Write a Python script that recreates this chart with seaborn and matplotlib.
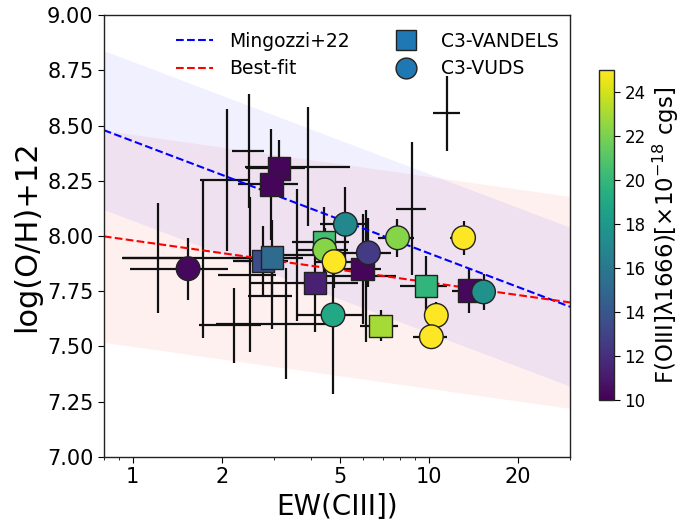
import numpy as np
import pandas as pd
import matplotlib
matplotlib.use("Agg")
import matplotlib.pyplot as plt
import seaborn as sns
from matplotlib.lines import Line2D
from matplotlib.ticker import FixedLocator, FixedFormatter, NullFormatter, FormatStrFormatter
from matplotlib.cm import ScalarMappable
from matplotlib.colors import Normalize

# ---------------- data ----------------
vandels_ew = [3.12, 2.94, 2.76, 2.96, 4.42, 4.13, 5.98, 9.77, 6.88, 13.7]
vandels_oh = [8.306, 8.234, 7.887, 7.902, 7.971, 7.786, 7.851, 7.775, 7.593, 7.753]
vandels_ew_err = [0.70, 0.67, 0.58, 0.80, 0.96, 1.62, 0.92, 1.75, 1.00, 1.70]
vandels_oh_err = [0.13, 0.25, 0.16, 0.17, 0.16, 0.22, 0.25, 0.135, 0.07, 0.10]
vandels_flux = [10.2, 10.2, 13.5, 15.2, 20.5, 11.4, 10.2, 19.8, 23.0, 10.3]

vuds_ew = [1.54, 5.23, 7.84, 13.1, 4.45, 4.79, 6.25, 15.3, 4.75, 10.6, 10.2]
vuds_oh = [7.852, 8.053, 7.992, 7.992, 7.937, 7.884, 7.924, 7.747, 7.643, 7.641, 7.544]
vuds_ew_err = [0.56, 0.95, 1.10, 1.30, 0.90, 0.70, 1.20, 1.20, 1.20, 0.80, 1.35]
vuds_oh_err = [0.14, 0.167, 0.087, 0.078, 0.10, 0.12, 0.156, 0.083, 0.36, 0.06, 0.057]
vuds_flux = [10.3, 17.0, 22.3, 25.0, 22.3, 25.0, 12.6, 17.5, 19.0, 25.0, 25.0]

other_ew = [11.5, 8.76, 3.91, 2.47, 2.09, 1.73, 1.22, 2.20, 3.30, 2.50, 3.60, 6.15, 2.95]
other_oh = [8.555, 8.124, 8.314, 8.385, 8.253, 7.90, 7.90, 7.595, 7.603, 7.825, 7.914, 7.82, 7.73]
other_ew_err = [1.2, 1.0, 1.52, 0.30, 0.40, 0.80, 0.30, 0.52, 1.38, 0.56, 0.90, 1.60, 0.50]
other_oh_err = [0.17, 0.30, 0.27, 0.26, 0.32, 0.36, 0.25, 0.17, 0.25, 0.35, 0.30, 0.30, 0.15]

# relations: intercept, slope (vs log10 EW), scatter
mingozzi_pars = (8.43, -0.508, 0.36)
bestfit_pars = (7.98, -0.19, 0.48)

x_ticks = [1, 2, 5, 10, 20]
x_ticklabels = ["1", "2", "5", "10", "20"]
y_ticks = [7.00, 7.25, 7.50, 7.75, 8.00, 8.25, 8.50, 8.75, 9.00]
cbar_ticks = [10, 12, 14, 16, 18, 20, 22, 24]
xlim = (0.8, 30)
ylim = (7.0, 9.0)
vmin, vmax = 10, 25

# ---------------- plot ----------------
sns.set_style("ticks")
plt.rcParams['font.family'] = ['DejaVu Sans']
plt.rcParams.update({"text.color": "black", "axes.labelcolor": "black",
                     "xtick.color": "black", "ytick.color": "black"})

fig = plt.figure(figsize=(6.97, 5.21), dpi=100)
ax = fig.add_axes([0.149, 0.123, 0.669, 0.848])
cax = fig.add_axes([0.859, 0.232, 0.022, 0.634])

ew_grid = np.logspace(np.log10(xlim[0]), np.log10(xlim[1]), 300)

def rel(p):
    return p[0] + p[1] * np.log10(ew_grid)

m_line = rel(mingozzi_pars)
b_line = rel(bestfit_pars)
ax.fill_between(ew_grid, m_line - mingozzi_pars[2], m_line + mingozzi_pars[2],
                color="blue", alpha=0.06, lw=0, zorder=1)
ax.fill_between(ew_grid, b_line - bestfit_pars[2], b_line + bestfit_pars[2],
                color="red", alpha=0.06, lw=0, zorder=1)
ax.plot(ew_grid, m_line, ls="--", color="blue", lw=1.5, zorder=2.5)
ax.plot(ew_grid, b_line, ls="--", color="red", lw=1.5, zorder=2.5)

for xs, ys, xe, ye in [(other_ew, other_oh, other_ew_err, other_oh_err),
                       (vandels_ew, vandels_oh, vandels_ew_err, vandels_oh_err),
                       (vuds_ew, vuds_oh, vuds_ew_err, vuds_oh_err)]:
    ax.errorbar(xs, ys, xerr=xe, yerr=ye, fmt="none",
                ecolor="#111111", elinewidth=1.6, capsize=0, zorder=2)

df_v = pd.DataFrame({"ew": vandels_ew, "oh": vandels_oh, "flux": vandels_flux})
df_u = pd.DataFrame({"ew": vuds_ew, "oh": vuds_oh, "flux": vuds_flux})
sns.scatterplot(data=df_v, x="ew", y="oh", hue="flux", palette="viridis",
                hue_norm=(vmin, vmax), marker="s", s=260, edgecolor="#222222",
                linewidth=1.0, legend=False, ax=ax, zorder=3)
sns.scatterplot(data=df_u, x="ew", y="oh", hue="flux", palette="viridis",
                hue_norm=(vmin, vmax), marker="o", s=290, edgecolor="#222222",
                linewidth=1.0, legend=False, ax=ax, zorder=3)

ax.set_xscale("log")
ax.set_xlim(*xlim)
ax.set_ylim(*ylim)
ax.xaxis.set_major_locator(FixedLocator(x_ticks))
ax.xaxis.set_major_formatter(FixedFormatter(x_ticklabels))
ax.xaxis.set_minor_formatter(NullFormatter())
ax.set_yticks(y_ticks)
ax.yaxis.set_major_formatter(FormatStrFormatter("%.2f"))
ax.tick_params(axis="both", which="major", labelsize=15, length=4, direction="out")
ax.tick_params(axis="x", which="minor", length=2.5)
for s in ax.spines.values():
    s.set_visible(True)
    s.set_color("#222222")
    s.set_linewidth(1.0)
ax.set_xlabel("EW(CIII])", fontsize=20)
ax.set_ylabel("log(O/H)+12", fontsize=22)

handles = [
    Line2D([0], [0], ls="--", color="blue", lw=1.5),
    Line2D([0], [0], ls="--", color="red", lw=1.5),
    Line2D([0], [0], marker="s", ls="none", markersize=15, markerfacecolor="#1f77b4",
           markeredgecolor="#222222"),
    Line2D([0], [0], marker="o", ls="none", markersize=15, markerfacecolor="#1f77b4",
           markeredgecolor="#222222"),
]
labels = ["Mingozzi+22", "Best-fit", "C3-VANDELS", "C3-VUDS"]
ax.legend(handles, labels, loc="upper center", ncol=2, frameon=False, fontsize=13.5,
          bbox_to_anchor=(0.565, 1.0), columnspacing=2.0, handlelength=2.0,
          handletextpad=0.85, labelspacing=0.45)

sm = ScalarMappable(norm=Normalize(vmin, vmax), cmap="viridis")
cb = fig.colorbar(sm, cax=cax)
cb.set_ticks(cbar_ticks)
cb.ax.tick_params(labelsize=12, length=4, colors="black")
cb.outline.set_linewidth(1.0)
cb.set_label("F(OIII]λ1666)[×10$^{-18}$ cgs]", fontsize=16.5)

fig.savefig("out.png", dpi=100)
